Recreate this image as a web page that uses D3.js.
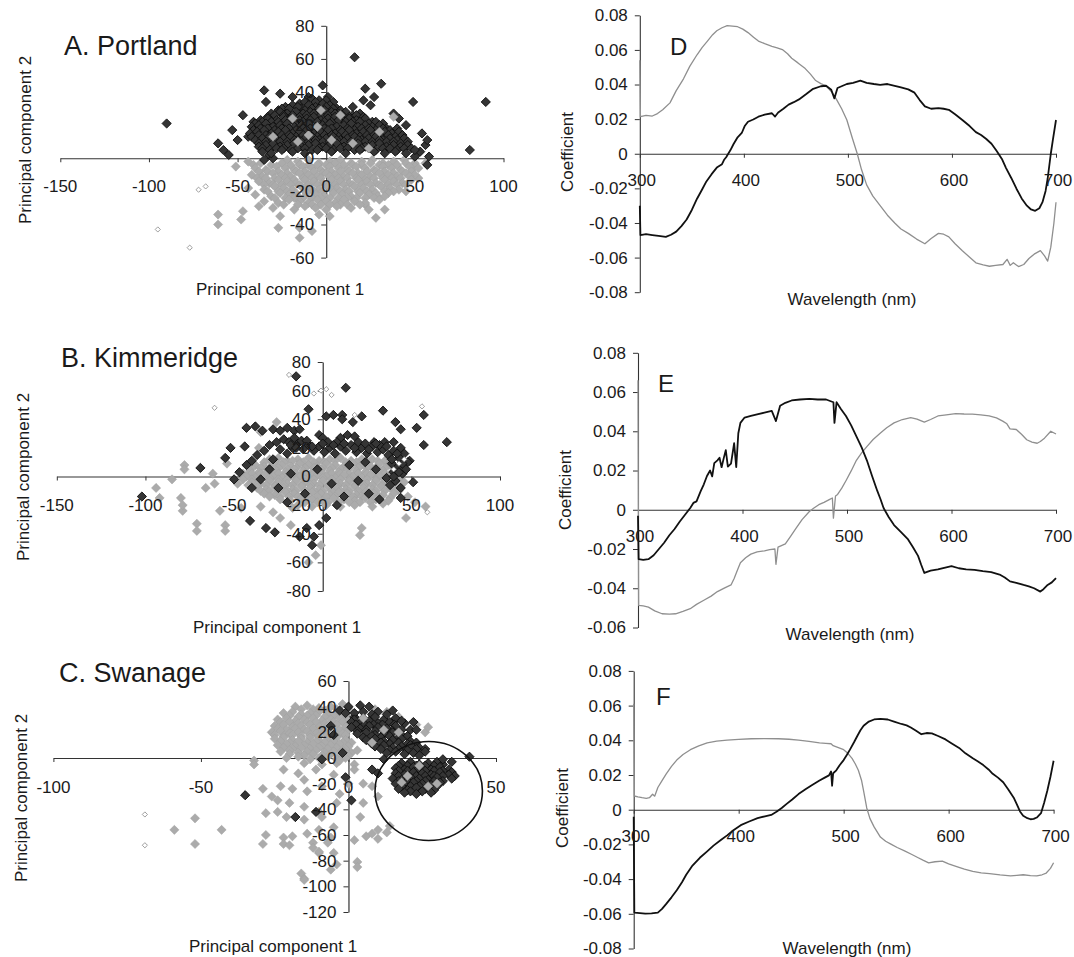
<!DOCTYPE html>
<html>
<head>
<meta charset="utf-8">
<script src="https://cdn.jsdelivr.net/npm/d3@7"></script>
<style>
  body { margin: 0; background: #fff; }
  svg text { font-family: "Liberation Sans", Arial, Helvetica, sans-serif; fill: #1a1a1a; }
</style>
</head>
<body>
<svg id="fig" width="1074" height="957"></svg>
<script>
// ---------- PCA scores, Portland ----------
const portlandDark = [
  [-90,21],[-2,44],[-35,41],[-26,39],[22,42],[31,45],[49,34],[27,37],[21,35],[15,31],[25,32],[38,27],[41,24],[54,15],[56,8],[50,1],[57,-4],
  [-47,26],[-53,17],[-50,11],[-61,9],[-58,5],[-41,22],[-34,34],[-19,37],[-10,37],[-32,2],[-30,0],[-35,-1],[16,61],[90,34],[81,5],[57,11],[53,4],[58,1],[45,20],[-44,13],[-55,2],
  [-8,36],[-4,35],[1,37],[-15,33],
  [-12,34],[-6,34],[0,35],[4,34],
  [-23,31],[-19,32],[-14,30],[-10,32],[-6,31],[-2,33],[2,32],[6,30],[-27,29],
  [-25,30],[-21,30],[-16,31],[-12,29],[-8,30],[-4,30],[0,31],[4,30],[8,29],
  [-31,27],[-26,28],[-22,27],[-17,28],[-13,27],[-9,28],[-5,27],[-1,29],[3,28],[7,27],[11,28],[15,26],[19,27],
  [-33,25],[-29,26],[-24,26],[-19,26],[-15,25],[-11,26],[-7,27],[-3,26],[1,26],[5,27],[9,26],[13,25],[17,26],[21,25],
  [-37,23],[-33,24],[-28,23],[-24,25],[-20,24],[-15,23],[-11,24],[-7,25],[-3,23],[1,24],[5,25],[9,23],[13,24],[17,23],[22,24],[26,22],
  [-40,21],[-36,22],[-31,22],[-27,22],[-23,23],[-18,22],[-13,22],[-9,23],[-5,22],[-1,22],[3,22],[7,23],[11,22],[15,22],[19,22],[24,21],[28,22],[32,21],
  [-42,19],[-38,20],[-34,21],[-30,19],[-26,20],[-22,21],[-18,19],[-14,20],[-10,21],[-6,19],[-2,20],[2,21],[6,19],[10,20],[14,21],[18,19],[22,20],[26,19],[30,20],[34,18],
  [-41,17],[-37,18],[-33,18],[-29,17],[-25,18],[-21,18],[-17,17],[-13,18],[-9,18],[-5,17],[-1,18],[3,18],[8,17],[12,18],[16,17],[20,18],[24,18],[28,17],[32,18],[36,17],[40,18],
  [-43,15],[-39,16],[-35,17],[-31,15],[-27,16],[-23,17],[-19,15],[-15,16],[-11,17],[-7,15],[-3,16],[1,17],[5,15],[9,16],[13,17],[17,15],[21,16],[25,17],[29,15],[33,16],[37,15],[41,16],
  [-42,13],[-38,14],[-34,14],[-29,13],[-25,14],[-21,14],[-17,13],[-13,14],[-9,14],[-5,13],[-1,14],[3,14],[7,13],[11,14],[15,14],[19,13],[23,14],[27,14],[31,13],[35,14],[39,13],[43,14],
  [-40,11],[-36,12],[-32,13],[-28,11],[-24,12],[-20,13],[-16,11],[-12,12],[-8,13],[-4,11],[0,12],[4,13],[8,11],[12,12],[16,13],[20,11],[24,12],[28,13],[32,11],[36,12],[40,11],[44,12],
  [-38,9],[-34,10],[-30,11],[-26,10],[-22,10],[-18,11],[-14,10],[-10,10],[-6,11],[-2,10],[2,10],[6,11],[10,10],[14,10],[18,11],[22,10],[26,10],[30,11],[34,10],[38,10],[42,9],[46,10],
  [-38,7],[-34,8],[-30,9],[-26,7],[-22,8],[-18,9],[-14,7],[-10,8],[-6,9],[-2,7],[2,8],[6,9],[10,7],[14,8],[18,9],[22,7],[26,8],[30,9],[34,7],[38,8],[42,7],[46,8],
  [-36,6],[-32,5],[-28,6],[-24,6],[-20,5],[-16,6],[-12,6],[-8,5],[-4,6],[0,6],[4,5],[8,6],[12,6],[16,5],[20,6],[24,6],[28,5],[32,6],[36,6],[40,5],[44,6],[48,6],
  [-36,4],[-31,3],[-25,5],[-19,4],[-12,3],[-5,5],[3,4],[11,3],[19,5],[27,4],[33,3],[39,4],[45,3],[50,5]
];
const portlandGrey = [
  [-61,-40],[-48,-37],[-27,-42],[-15,-48],[28,-36],[-51,-5],[-38,-29],[-61,-34],[-47,-32],[-15,-42],[-26,-35],[33,-31],[22,-28],[-8,-44],[45,-20],[52,-12],[56,-3],
  [-44,-2],[-37,-3],[-22,-1],[-16,-2],[-10,-1],[-4,-3],[2,-2],[8,-1],[14,-3],[20,-2],[26,-1],[32,-3],[38,-2],[44,-1],[50,-3],
  [-41,-4],[-31,-4],[-25,-3],[-20,-4],[-15,-4],[-10,-4],[-5,-4],[0,-4],[5,-3],[10,-4],[15,-4],[20,-4],[25,-3],[30,-4],[35,-4],[40,-4],[45,-3],[50,-5],
  [-40,-6],[-34,-7],[-28,-5],[-23,-6],[-18,-7],[-13,-5],[-8,-6],[-3,-7],[2,-5],[7,-6],[12,-7],[17,-5],[22,-6],[27,-7],[32,-5],[37,-6],[42,-7],[47,-5],[52,-6],
  [-38,-8],[-33,-8],[-27,-8],[-22,-9],[-17,-8],[-12,-8],[-7,-8],[-2,-9],[3,-8],[8,-8],[13,-8],[18,-9],[23,-8],[28,-8],[33,-8],[38,-9],[43,-8],[48,-8],
  [-42,-10],[-36,-11],[-30,-9],[-25,-10],[-20,-11],[-15,-9],[-10,-10],[-5,-11],[0,-9],[5,-10],[10,-11],[15,-9],[20,-10],[25,-11],[30,-9],[35,-10],[40,-11],[45,-9],[50,-10],
  [-39,-12],[-34,-12],[-29,-12],[-23,-12],[-18,-13],[-13,-12],[-8,-12],[-3,-12],[2,-11],[7,-12],[12,-12],[17,-12],[22,-13],[27,-12],[32,-12],[37,-12],[42,-12],[47,-11],
  [-38,-14],[-32,-15],[-27,-13],[-22,-14],[-17,-15],[-12,-13],[-7,-14],[-2,-15],[3,-13],[8,-14],[13,-15],[18,-13],[23,-14],[28,-15],[33,-13],[38,-14],[43,-15],[48,-13],
  [-35,-16],[-30,-16],[-25,-16],[-20,-16],[-15,-16],[-10,-16],[-5,-16],[0,-16],[5,-16],[10,-16],[15,-16],[20,-16],[25,-16],[30,-16],[35,-16],[40,-16],[45,-16],
  [-44,-18],[-35,-19],[-29,-17],[-24,-18],[-19,-19],[-14,-17],[-9,-18],[-4,-19],[1,-17],[6,-18],[11,-19],[16,-17],[21,-18],[26,-19],[31,-17],[36,-18],[41,-19],
  [-33,-20],[-27,-20],[-22,-20],[-17,-21],[-12,-20],[-7,-20],[-2,-20],[3,-19],[8,-20],[13,-20],[18,-20],[23,-20],[28,-21],[33,-20],[38,-20],
  [-40,-22],[-31,-23],[-26,-21],[-21,-22],[-16,-23],[-11,-21],[-6,-22],[-1,-23],[4,-21],[9,-22],[14,-23],[19,-21],[24,-22],[29,-23],[35,-21],
  [-29,-24],[-23,-24],[-18,-24],[-13,-24],[-8,-24],[-3,-24],[2,-24],[7,-24],[12,-24],[17,-24],[22,-24],[27,-24],[33,-23],
  [-35,-26],[-27,-27],[-21,-25],[-15,-26],[-10,-27],[-5,-25],[0,-26],[5,-27],[10,-25],[16,-26],[22,-27],[30,-25],
  [-24,-28],[-16,-28],[-8,-28],[-3,-28],[2,-28],[8,-28],[12,-28],[19,-28],
  [-30,-30],[-18,-31],[-12,-29],[-6,-30],[0,-31],[6,-29],[14,-30],[24,-31],
  [-4,-34],[2,-35]
];
const portlandGreyTop = [[-19,24],[-5,19],[3,11],[-16,10],[30,16],[38,25],[-10,14],[15,9],[-30,13],[24,6],[8,26],[-3,29]];
const portlandOpen = [[-95,-43],[-77,-54],[-72,-19],[-68,-17]];

// ---------- PCA scores, Kimmeridge ----------
const kimmeridgeDark = [
  [-15,70],[13,62],[-8,47],[2,42],[6,43],[11,43],[11,40],[17,38],[22,42],[34,46],[41,38],[44,33],[53,34],[57,43],[70,24],[57,22],[49,11],[40,24],[35,24],[29,24],[51,-4],[40,3],
  [-102,-14],[-69,6],[-52,20],[-55,13],[-43,34],[-38,35],[-34,32],[-44,21],[-41,-31],[-32,-36],[-27,-39],[-9,-36],[-5,-42],[-2,-34],[2,-29],[-13,-42],[-6,-48],[44,-15],
  [-28,33],[-24,32],[-20,34],[-16,32],[-13,33],[-2,29],[0,27],[10,27],[14,29],[18,28],
  [-50,-2],[-47,3],[-43,8],[-40,11],[-37,15],[-33,18],[-30,22],[-26,24],[-22,26],[-19,24],[-17,20],[-14,23],[-11,19],[-8,22],[-5,18],[-2,21],[1,17],[4,20],[7,16],[10,21],
  [13,18],[16,22],[19,17],[22,20],[25,16],[28,21],[31,17],[34,19],[37,15],[40,18],[43,13],[46,16],[48,10],[-16,27],[-12,25],[-24,19],[-20,16],[3,24],[8,24],[20,24],
  [24,23],[32,22],[44,20],[39,9],[42,6],[45,2],[41,-3],[38,-6],[44,-8],[36,-1],
  [-18,22],[-15,20],[-9,25],[-6,21],[0,23],[6,22],[12,23],[18,20],[26,19],[30,23],[36,21],[42,16],[39,12],[45,9],[47,5],[43,3],[40,0],
  [-35,-2],[-30,5],[-25,-8],[-18,2],[-10,-12],[-3,5],[5,-5],[12,-14],[20,-3],[26,-12],[30,5],[15,8],[-20,-18],[8,-20],[32,-16],[-40,-8],[-28,12],[24,10]
];
const kimmeridgeGrey = [
  [-78,8],[-66,-8],[-80,-15],[-79,-24],[-71,-33],[-94,-8],[-92,-15],[-58,-24],[-55,-34],[-61,-5],[-48,-5],[-46,-22],[-35,-21],[-28,-25],[-24,-29],[-18,-34],[-17,-22],
  [22,-36],[47,-29],[58,-21],[-26,38],[-35,31],[-36,20],[-54,9],[-78,5],[-79,-20],[-71,-38],[-55,-38],[-8,-60],[21,-41],[-1,-48],[-62,2],[-85,-2],[-4,-55],
  [-30,12],[-25,13],[-20,11],[-14,12],[-8,13],[-2,11],[4,12],[10,13],[16,11],[22,12],[28,12],
  [-33,10],[-27,10],[-22,10],[-17,11],[-11,10],[-5,10],[1,10],[7,11],[13,10],[19,10],[25,10],[31,11],[35,11],
  [-38,8],[-33,7],[-28,9],[-23,8],[-18,7],[-13,9],[-8,8],[-3,7],[2,9],[7,8],[12,7],[17,9],[22,8],[27,7],[32,9],[37,8],
  [-40,6],[-35,6],[-30,6],[-25,6],[-20,5],[-15,6],[-10,6],[-5,6],[0,6],[5,6],[10,5],[15,6],[20,6],[25,6],[30,6],[35,6],[40,6],
  [-41,4],[-36,3],[-31,5],[-26,4],[-21,3],[-16,5],[-11,4],[-6,3],[-1,5],[4,4],[9,3],[14,5],[19,4],[24,3],[29,5],[34,4],[39,3],[44,5],
  [-45,2],[-40,2],[-35,2],[-30,2],[-25,2],[-20,2],[-15,2],[-10,2],[-5,2],[0,2],[5,2],[10,2],[15,2],[20,2],[25,2],[30,2],[35,2],[40,2],[45,2],
  [-43,0],[-38,-1],[-33,1],[-28,0],[-23,-1],[-18,1],[-13,0],[-8,-1],[-3,1],[2,0],[7,-1],[12,1],[17,0],[22,-1],[27,1],[32,0],[37,-1],[42,1],
  [-45,-2],[-40,-2],[-35,-2],[-30,-1],[-25,-2],[-20,-2],[-15,-2],[-10,-2],[-5,-2],[0,-1],[5,-2],[10,-2],[15,-2],[20,-2],[25,-2],[30,-2],[35,-2],[40,-2],[44,-2],
  [-40,-4],[-35,-5],[-30,-3],[-25,-4],[-20,-5],[-15,-3],[-10,-4],[-5,-5],[0,-3],[5,-4],[10,-5],[15,-3],[20,-4],[25,-5],[30,-3],[35,-4],[40,-5],[46,-4],
  [-42,-6],[-37,-6],[-32,-6],[-27,-6],[-22,-6],[-17,-6],[-12,-6],[-7,-6],[-2,-6],[3,-6],[8,-6],[13,-6],[18,-6],[23,-6],[28,-6],[33,-6],[38,-6],[43,-6],
  [-37,-8],[-32,-9],[-27,-7],[-22,-8],[-17,-9],[-12,-7],[-7,-8],[-2,-9],[3,-7],[8,-8],[13,-9],[18,-7],[23,-8],[28,-9],[33,-7],[38,-8],[43,-10],
  [-35,-10],[-30,-10],[-25,-10],[-20,-10],[-15,-10],[-10,-10],[-5,-10],[0,-10],[5,-10],[10,-10],[15,-10],[20,-10],[25,-10],[30,-10],[35,-10],[41,-10],
  [-33,-12],[-27,-13],[-21,-11],[-16,-12],[-11,-13],[-6,-11],[-1,-12],[4,-13],[9,-11],[14,-12],[19,-13],[24,-11],[29,-12],[34,-13],[40,-12],[48,-14],
  [-30,-14],[-24,-14],[-19,-14],[-14,-14],[-9,-14],[-3,-14],[2,-14],[7,-14],[12,-14],[17,-14],[22,-14],[27,-14],[32,-14],[38,-15],
  [-24,-16],[-18,-17],[-12,-15],[-6,-16],[0,-17],[6,-15],[12,-16],[18,-17],[24,-15],[30,-16],[37,-17],[52,-18],
  [-20,-18],[-10,-18],[-3,-18],[3,-18],[9,-18],[15,-18],[21,-18],[27,-18],[34,-19],
  [-14,-20],[-6,-21],[2,-20],[10,-21],[18,-20],[28,-21]
];
const kimmeridgeOpen = [[-61,48],[-19,71],[-5,58],[-1,60],[2,61],[5,57],[56,49],[18,43],[40,5],[43,9],[46,12],[59,-25]];

// ---------- PCA scores, Swanage ----------
const swanageDark = [
  [0,40],[4,41],[7,40],[12,30],[13,34],[16,30],[19,27],[21,22],[23,22],[22,28],[2,32],[-3,37],[-1,35],[10,36],[15,37],
  [2,35],[5,36],[8,34],[2,30],[5,31],[9,32],[16,31],
  [1,28],[4,27],[7,29],[10,27],[14,28],[18,29],
  [2.5,26],[5.5,26],[8.5,26],[11.5,26],[15.5,26],
  [1,24],[4,23],[7,25],[10,24],[13,23],[16,25],
  [3,21],[6,22],[9,21],[12,22],[15,21],[18,22],
  [3,19],[6,20],[9,18],[12,19],[15,20],[18,18],
  [5,16],[8,17],[11,16],[14,17],[17,16],[20,17],
  [6,14],[9,15],[12,13],[15,14],[18,15],[21,13],
  [8,11],[11,12],[14,11],[17,12],[20,11],[23,12],
  [9,9],[12,10],[15,8],[18,9],[21,10],[24,8],
  [11,7],[14,6],[17,7],[20,6],[23,7],[26,7],
  [13,4],[16,5],[19,3],[22,4],[26,5],[12,-1],
  [18,-4],[21,-3],[24,-5],[27,-4],[30,-3],
  [17,-6],[20,-6],[23,-6],[26,-6],[29,-6],[32,-5],
  [16,-8],[19,-9],[22,-7],[25,-8],[28,-9],[31,-7],[34,-9],
  [17,-10],[20,-10],[23,-10],[26,-10],[29,-10],[32,-10],[35,-11],
  [16,-12],[19,-13],[22,-11],[25,-12],[28,-13],[31,-11],[34,-13],
  [17,-14],[20,-14],[23,-14],[26,-14],[29,-14],[32,-14],[36,-14],
  [15,-16],[18,-17],[21,-15],[24,-16],[27,-17],[30,-15],[35,-16],
  [17,-18],[20,-18],[23,-18],[26,-18],[29,-18],[32,-18],
  [16,-20],[19,-21],[22,-19],[25,-20],[28,-21],[31,-19],
  [18,-22],[21,-22],[24,-22],[27,-22],[30,-22],
  [17,-24],[20,-25],[23,-23],[26,-24],[29,-25],
  [21,-26],[25,-26],[28,-27],[19,-27],[23,-28],
  [24,2],[32,-1],[35,-3],[41,1],[-35,-29],[-18,-46],[-11,-42],[8,-9],[10,-12],[1,-33],[-1,-15],[-9,-1],[-5,18],[-2,4],[-6,25]
];
const swanageGrey = [
  [-18,40],[-14,41],[-10,39],[-6,40],[-2,42],
  [-16,38],[-12,38],[-8,37],[-4,38],[0,38],
  [-22,35],[-19,36],[-16,34],[-13,35],[-10,36],[-7,34],[-4,35],[-1,33],
  [-20,33],[-17,32],[-14,33],[-11,33],[-8,32],[-5,33],[-2,32],
  [-24,30],[-21,31],[-18,29],[-15,30],[-12,31],[-9,29],[-6,30],[-3,31],[0,29],
  [-23,28],[-20,28],[-17,27],[-14,28],[-11,28],[-8,27],[-5,28],[-2,28],[1,27],
  [-25,25],[-22,26],[-19,24],[-16,25],[-13,26],[-10,24],[-7,25],[-4,26],[-1,24],
  [-24,23],[-21,22],[-18,23],[-15,22],[-12,23],[-9,22],[-6,23],[-3,22],[0,22],
  [-26,20],[-23,21],[-20,19],[-17,20],[-14,21],[-11,19],[-8,20],[-5,21],[-2,19],
  [-25,18],[-22,17],[-19,18],[-16,17],[-13,18],[-10,17],[-7,18],[-4,17],[-1,18],
  [-25,15],[-22,16],[-19,14],[-16,15],[-13,16],[-10,14],[-7,15],[-4,16],[-1,14],
  [-23,13],[-20,12],[-17,13],[-14,12],[-11,13],[-8,12],[-5,13],[-2,12],[1,12],
  [-24,10],[-21,11],[-18,9],[-15,10],[-12,11],[-9,9],[-6,10],[-3,11],[0,9],
  [-22,8],[-19,7],[-16,8],[-13,7],[-10,8],[-7,7],[-4,8],[-1,7],
  [-23,5],[-20,6],[-17,4],[-14,5],[-11,6],[-8,4],[-5,5],[-2,6],[1,4],
  [-20,3],[-15,2],[-12,3],[-9,2],[-6,3],[-3,2],[0,2],
  [-21,0],[-17,1],[-13,-1],[-10,0],[-7,1],[-4,-1],[-1,0],
  [-15,-4],[-9,-5],[-4,-4],[2,-5],
  [-22,-9],[-17,-12],[-11,-9],[-5,-13],[2,-9],[-23,-22],[-19,-24],[-14,-26],[-9,-22],[-3,-28],[-24,-33],[-20,-35],[-15,-38],[-10,-42],
  [-21,-46],[-15,-48],[-9,-46],[-5,-54],[-28,-60],[-22,-62],[-19,-61],[-14,-59],[-10,-56],[-12,-66],[-7,-66],[-10,-74],[-5,-74],[-16,-90],[-15,-94],
  [3,-81],[2,-64],[6,-61],[10,-56],[14,-53],[5,-35],[4,-46],[10,-30],[8,-22],[5,-20],[-32,-2],[-3,-2],[0,-20],[-4,-35],[-24,-42],[-28,-43],[-15,-17],
  [-32,-5],[-29,-24],[-26,-30],[-59,-56],[-52,-47],[-52,-67],[-43,-56],[3,-85],[-15,-95],[8,-59],[13,-58],[10,-63],[-22,-67],[-20,-68],[-29,-67],[-12,-70],[-10,-73],[-6,-62],[-4,-83],[-6,-87],
  [9,38],[13,36],[17,32],[23,26],[26,20],[27,24]
];
const swanageGreyTop = [[20,-14],[27,-22],[24,-6],[30,-20],[18,-19],[5,31],[12,22],[17,20],[8,12],[3,6]];
const swanageOpen = [[-69,-44],[-69,-68]];
// ring drawn round the second group: centre x, centre y, radius along x, radius along y
const swanageRing = [27.2, -25.7, 18.2, 38.6];

// ---------- Loading coefficients by wavelength (nm, coefficient) ----------
const coefPortlandBlack = [
  [300,-0.030],[300.6,-0.047],[306,-0.0465],[312,-0.047],[318,-0.0475],[325,-0.048],[330,-0.0468],[335,-0.045],[340,-0.0418],[345,-0.038],[350,-0.0325],[355,-0.026],
  [360,-0.0205],[364,-0.016],[369,-0.0118],[374,-0.008],[379,-0.006],[381,-0.0035],[383,-0.002],[387,0.002],[390,0.0055],[394,0.0095],[398,0.012],
  [401,0.0162],[404,0.0185],[409,0.0198],[414,0.0214],[420,0.0226],[427,0.0234],[430,0.0215],[433,0.0238],[438,0.026],[443,0.0284],[448,0.0298],[453,0.0314],
  [460,0.0345],[466,0.0373],[474,0.039],[479,0.0393],[484,0.037],[487,0.032],[490,0.038],
  [499,0.0403],[505,0.041],[512,0.0423],[518,0.041],[525,0.0403],[531,0.0398],[538,0.0403],[545,0.0392],[551,0.0383],[558,0.0372],[564,0.0353],[569,0.031],[574,0.0274],
  [580,0.026],[587,0.0264],[592,0.026],[597,0.0254],[603,0.0228],[610,0.0195],[617,0.016],[623,0.0125],[628,0.0108],[633,0.0085],
  [638,0.0058],[643,0.0016],[648,-0.003],[652,-0.0083],[657,-0.014],[662,-0.0202],[667,-0.0258],[672,-0.030],[676,-0.0322],[680,-0.033],[684,-0.0315],
  [687,-0.028],[690,-0.0215],[692,-0.0143],[695,0],[697,0.008],[700,0.0195]
];
const coefPortlandGrey = [
  [300,0.054],[300.6,0.0214],[306,0.0222],[312,0.0218],[317,0.0232],[322,0.0254],[329,0.0294],[335,0.0365],[342,0.0433],[348,0.0505],[355,0.0572],[360,0.0615],
  [365,0.0651],[370,0.0688],[374,0.0711],[379,0.0728],[384,0.074],[389,0.0737],[394,0.0734],[399,0.072],[404,0.070],[409,0.0675],[414,0.0651],[420,0.0636],
  [427,0.0621],[432,0.0612],[437,0.0602],[442,0.0578],[446,0.0552],[452,0.0525],[459,0.0492],[464,0.046],[469,0.0423],[474,0.0405],[479,0.0393],[484,0.036],
  [489,0.0314],[494,0.026],[499,0.0195],[504,0.0095],[509,0.0],[513,-0.009],[518,-0.018],[524,-0.0245],[531,-0.030],[538,-0.0355],[545,-0.040],[551,-0.0435],
  [558,-0.046],[566,-0.0493],[574,-0.052],[580,-0.049],[587,-0.046],[592,-0.0465],[597,-0.048],[603,-0.052],[610,-0.056],[617,-0.0598],[623,-0.063],[630,-0.0642],
  [636,-0.065],[642,-0.0645],[649,-0.064],[653,-0.061],[656,-0.0645],[659,-0.063],[664,-0.0652],[669,-0.064],[674,-0.0605],[679,-0.058],
  [685,-0.056],[689,-0.059],[692,-0.062],[695,-0.054],[698,-0.040],[700,-0.028]
];
const coefKimmeridgeBlack = [
  [300,-0.003],[300.6,-0.0252],[305,-0.0255],[310,-0.0252],[315,-0.0232],[320,-0.020],[325,-0.0168],[330,-0.013],[335,-0.0098],[340,-0.006],[345,-0.0025],[350,0.0009],
  [353,0.0035],[356,0.0043],[360,0.0095],[363,0.013],[366,0.0172],[369,0.020],[371,0.017],[373,0.0238],[376,0.0252],[378,0.0265],[380,0.0217],
  [382,0.0262],[384,0.0304],[386,0.022],[389,0.0235],[392,0.0339],[394,0.0217],[396,0.039],[398,0.0443],[402,0.047],[408,0.0478],[415,0.0487],[421,0.0495],[428,0.0504],
  [432,0.0452],[436,0.053],[441,0.0545],[447,0.0557],[455,0.0562],
  [464,0.0565],[472,0.0562],[480,0.0562],[487,0.0548],[488,0.0443],[490,0.0548],[494,0.0515],[499,0.0478],[504,0.043],[509,0.0374],[514,0.0318],[519,0.0252],
  [524,0.0172],[529,0.0096],[532,0.0055],[535,0.0009],[540,-0.0038],[545,-0.0078],[551,-0.011],[558,-0.0148],
  [563,-0.019],[568,-0.0235],[571,-0.028],[574,-0.0322],[580,-0.031],[587,-0.0304],[593,-0.0296],[600,-0.0287],[607,-0.0298],[614,-0.0304],[622,-0.0306],
  [630,-0.0313],[638,-0.0318],[646,-0.033],[651,-0.0345],[656,-0.0365],[662,-0.0372],[669,-0.0383],[674,-0.039],[679,-0.040],[685,-0.0417],
  [688,-0.0405],[692,-0.0383],[696,-0.037],[700,-0.0348]
];
const coefKimmeridgeGrey = [
  [300,0.066],[300.6,-0.0487],[305,-0.049],[310,-0.0496],[316,-0.0515],[323,-0.053],[330,-0.0532],[336,-0.053],[343,-0.0518],[350,-0.0504],[356,-0.0482],
  [363,-0.0461],[370,-0.044],[376,-0.0417],[383,-0.0398],[389,-0.0383],[392,-0.035],[395,-0.031],[398,-0.027],[403,-0.0245],[408,-0.0226],
  [414,-0.0215],[421,-0.0209],[426,-0.0203],[431,-0.020],[432,-0.0278],[434,-0.019],[441,-0.0174],[446,-0.0135],[451,-0.0096],[457,-0.005],[464,-0.0009],
  [468,0.0008],[473,0.0026],[478,0.0038],[483,0.0052],[486,0.006],[487,-0.0043],[489,0.007],
  [491,0.0078],[495,0.011],[499,0.0148],[504,0.0198],[509,0.0252],[514,0.029],[519,0.0322],[525,0.0358],[532,0.0391],[538,0.0418],[545,0.0443],[553,0.046],
  [561,0.047],[567,0.0462],[574,0.0447],[580,0.046],[587,0.0478],[595,0.0484],[604,0.049],[612,0.0488],[620,0.0487],[628,0.0484],[636,0.0478],[643,0.0468],
  [649,0.0452],[653,0.0438],[656,0.0412],[662,0.0409],[667,0.0385],[672,0.0357],[677,0.0345],[682,0.0339],[685,0.0348],[689,0.0365],[695,0.040],[700,0.0386]
];
const coefSwanageBlack = [
  [300,-0.004],[300.6,-0.0593],[306,-0.0596],[311,-0.0599],[317,-0.0597],[323,-0.0593],[327,-0.0572],[331,-0.0543],[336,-0.0505],[341,-0.0464],[346,-0.0418],
  [350,-0.0375],[356,-0.0322],[363,-0.0277],[370,-0.024],[376,-0.0207],[383,-0.0175],[389,-0.0148],[395,-0.0118],[402,-0.0089],[410,-0.0068],[418,-0.0049],
  [425,-0.0038],[431,-0.003],[436,-0.0012],[441,0.001],[446,0.0035],[451,0.0059],[457,0.009],[464,0.0119],[470,0.0142],[477,0.0168],[482,0.0185],
  [486,0.0198],[488,0.022],[489,0.0138],[490,0.021],[493,0.0227],[496,0.0255],[500,0.0286],[503,0.0315],[506,0.0346],
  [510,0.039],[513,0.0425],[516,0.0458],[519,0.0484],[524,0.0508],[529,0.052],[535,0.0524],[542,0.052],[548,0.0508],[555,0.0494],[560,0.0486],[564,0.0474],
  [569,0.0455],[574,0.0435],[579,0.0442],[584,0.044],[590,0.0425],[597,0.0405],[603,0.0382],[610,0.0356],[616,0.0325],[623,0.0296],[628,0.0278],[633,0.0257],
  [638,0.0232],[642,0.0207],[647,0.0185],[652,0.0158],[657,0.0115],[662,0.0069],[665,0.003],[668,-0.001],[671,-0.0035],[675,-0.0049],[678,-0.0055],[681,-0.0053],
  [684,-0.0045],[688,-0.002],[691,0.004],[694,0.0109],[697,0.019],[700,0.0282]
];
const coefSwanageGrey = [
  [300,0.061],[300.6,0.0079],[304,0.0074],[308,0.0069],[312,0.0065],[315,0.0069],[318,0.0089],[320,0.0078],[323,0.0128],[327,0.0168],[331,0.0207],[336,0.025],
  [341,0.0286],[347,0.0318],[354,0.0346],[362,0.0368],[370,0.0385],[379,0.0395],[389,0.0401],[400,0.0405],[412,0.0409],[425,0.041],[438,0.0409],[448,0.0406],
  [457,0.0401],[467,0.0394],[477,0.0385],[483,0.0382],[488,0.038],[490,0.0369],[495,0.0358],[500,0.0346],[504,0.0325],[508,0.0296],[511,0.0265],[514,0.0227],
  [517,0.017],[519,0.0109],[522,0.001],[525,-0.005],[529,-0.0099],[535,-0.0158],[540,-0.0182],[545,-0.0198],
  [551,-0.0218],[558,-0.0237],[565,-0.0258],[571,-0.0277],[576,-0.0292],[581,-0.0306],[587,-0.03],[594,-0.0296],[600,-0.0312],[607,-0.0326],[615,-0.0342],
  [623,-0.0356],[631,-0.0364],[639,-0.0369],[649,-0.0376],[659,-0.0381],[665,-0.0378],[671,-0.0375],[678,-0.038],[684,-0.0381],[689,-0.0375],[693,-0.0365],
  [697,-0.0338],[700,-0.0306]
];

const scatterTicksAB = [-150,-100,-50,0,50,100];
const scatterTicksC = [-100,-50,0,50];
const pc2TicksA = [-60,-40,-20,0,20,40,60,80];
const pc2TicksB = [-80,-60,-40,-20,0,20,40,60,80];
const pc2TicksC = [-120,-100,-80,-60,-40,-20,0,20,40,60];
const wavelengthTicks = [300,400,500,600,700];
const coefTicks = [-0.08,-0.06,-0.04,-0.02,0,0.02,0.04,0.06,0.08];
const coefTicksE = [-0.06,-0.04,-0.02,0,0.02,0.04,0.06,0.08];

const svg = d3.select("#fig");
const DARK = "#353535", DARK_EDGE = "#0d0d0d", GREY = "#ababab", GREY_EDGE = "#a0a0a0";
const diamond = "M0,-4.6L4.6,0L0,4.6L-4.6,0Z";
const smallDiamond = "M0,-2.6L2.6,0L0,2.6L-2.6,0Z";

function scatterPanel(o) {
  const x = d3.scaleLinear().domain(o.xDomain).range(o.xRange);
  const y = d3.scaleLinear().domain(o.yDomain).range(o.yRange);
  const g = svg.append("g");
  const axisStyle = sel => { sel.select(".domain").attr("stroke", "#333").attr("stroke-width", 1.2); sel.selectAll(".tick line").attr("stroke", "#333"); };

  g.append("g").attr("transform", `translate(0,${y(0)})`)
    .call(d3.axisBottom(x).tickValues(o.xTicks).tickSize(4).tickSizeOuter(0).tickFormat(""))
    .call(axisStyle);
  g.append("g").attr("transform", `translate(${x(0)},0)`)
    .call(d3.axisLeft(y).tickValues(o.yTicks).tickSize(5).tickSizeOuter(0).tickFormat(""))
    .call(axisStyle);

  const pts = (data, path, fill, stroke, sw) => g.append("g").selectAll("path").data(data).join("path")
    .attr("d", path).attr("transform", d => `translate(${x(d[0])},${y(d[1])})`)
    .attr("fill", fill).attr("stroke", stroke).attr("stroke-width", sw);

  pts(o.grey, diamond, GREY, GREY_EDGE, 0.5);
  pts(o.dark, diamond, DARK, DARK_EDGE, 0.9);
  pts(o.greyTop, diamond, GREY, GREY_EDGE, 0.5);
  pts(o.open, smallDiamond, "#fff", "#888", 0.8);

  if (o.ring) {
    const [cx, cy, rx, ry] = o.ring;
    g.append("ellipse").attr("cx", x(cx)).attr("cy", y(cy))
      .attr("rx", x(cx + rx) - x(cx)).attr("ry", y(cy - ry) - y(cy))
      .attr("fill", "none").attr("stroke", "#111").attr("stroke-width", 1.6);
  }

  g.append("g").selectAll("text").data(o.xTicks).join("text")
    .attr("x", d => x(d)).attr("y", y(0) + o.xLabelGap).attr("dy", "0.35em")
    .attr("text-anchor", "middle").attr("font-size", 17).text(d => String(d));
  g.append("g").selectAll("text").data(o.yTicks).join("text")
    .attr("x", x(0) - 12).attr("y", d => y(d)).attr("dy", "0.35em")
    .attr("text-anchor", "end").attr("font-size", 17).text(d => String(d));

  g.append("text").attr("x", o.title[1]).attr("y", o.title[2]).attr("font-size", 27).text(o.title[0]);
  g.append("text").attr("x", o.xTitle[0]).attr("y", o.xTitle[1]).attr("text-anchor", "middle")
    .attr("font-size", 17).text("Principal component 1");
  g.append("text").attr("transform", `translate(${o.yTitle[0]},${o.yTitle[1]}) rotate(-90)`)
    .attr("text-anchor", "middle").attr("dy", "0.35em").attr("font-size", 17).text("Principal component 2");
}

function spectrumPanel(o) {
  const x = d3.scaleLinear().domain([300, 700]).range(o.xRange);
  const y = d3.scaleLinear().domain(o.yDomain).range(o.yRange);
  const g = svg.append("g");
  const axisStyle = sel => { sel.select(".domain").attr("stroke", "#333").attr("stroke-width", 1.1); sel.selectAll(".tick line").attr("stroke", "#333"); };

  g.append("g").attr("transform", `translate(${x(300)},0)`)
    .call(d3.axisLeft(y).tickValues(o.yTicks).tickSize(5).tickSizeOuter(0).tickFormat(""))
    .call(axisStyle);
  g.append("g").attr("transform", `translate(0,${y(0)})`)
    .call(d3.axisBottom(x).tickValues(wavelengthTicks).tickSize(4).tickSizeOuter(0).tickFormat(""))
    .call(axisStyle);

  const line = d3.line().x(d => x(d[0])).y(d => y(d[1]));
  g.append("path").datum(o.grey).attr("d", line).attr("fill", "none")
    .attr("stroke", "#8f8f8f").attr("stroke-width", 1.3).attr("stroke-linejoin", "round");
  g.append("path").datum(o.black).attr("d", line).attr("fill", "none")
    .attr("stroke", "#111").attr("stroke-width", 1.8).attr("stroke-linejoin", "round");

  g.append("g").selectAll("text").data(wavelengthTicks).join("text")
    .attr("x", d => x(d) + 2).attr("y", y(0) + 26).attr("dy", "0.35em")
    .attr("text-anchor", "middle").attr("font-size", 17).text(d => String(d));
  g.append("g").selectAll("text").data(o.yTicks).join("text")
    .attr("x", x(300) - 12).attr("y", d => y(d)).attr("dy", "0.35em")
    .attr("text-anchor", "end").attr("font-size", 17).text(d => d === 0 ? "0" : d.toFixed(2));

  g.append("text").attr("x", o.letter[1]).attr("y", o.letter[2]).attr("font-size", 24).text(o.letter[0]);
  g.append("text").attr("x", o.xTitle[0]).attr("y", o.xTitle[1]).attr("text-anchor", "middle")
    .attr("font-size", 17).text("Wavelength (nm)");
  g.append("text").attr("transform", `translate(${o.yTitle[0]},${o.yTitle[1]}) rotate(-90)`)
    .attr("text-anchor", "middle").attr("dy", "0.35em").attr("font-size", 17).text("Coefficient");
}

scatterPanel({
  xDomain: [-150, 100], xRange: [60.3, 503.5], yDomain: [-60, 80], yRange: [257.6, 25.8],
  xTicks: scatterTicksAB, yTicks: pc2TicksA, xLabelGap: 28,
  dark: portlandDark, grey: portlandGrey, greyTop: portlandGreyTop, open: portlandOpen,
  title: ["A. Portland", 64, 55], xTitle: [280, 295], yTitle: [25, 140]
});
scatterPanel({
  xDomain: [-150, 100], xRange: [56.8, 500], yDomain: [-80, 80], yRange: [591, 362],
  xTicks: scatterTicksAB, yTicks: pc2TicksB, xLabelGap: 29,
  dark: kimmeridgeDark, grey: kimmeridgeGrey, greyTop: [], open: kimmeridgeOpen,
  title: ["B. Kimmeridge", 61, 367], xTitle: [277, 633], yTitle: [23, 477]
});
scatterPanel({
  xDomain: [-100, 50], xRange: [53.4, 496], yDomain: [-120, 60], yRange: [912, 681],
  xTicks: scatterTicksC, yTicks: pc2TicksC, xLabelGap: 29,
  dark: swanageDark, grey: swanageGrey, greyTop: swanageGreyTop, open: swanageOpen, ring: swanageRing,
  title: ["C. Swanage", 59, 682], xTitle: [273, 952], yTitle: [21, 798]
});

spectrumPanel({
  xRange: [639.8, 1056], yDomain: [-0.08, 0.08], yRange: [292.2, 15.3], yTicks: coefTicks,
  black: coefPortlandBlack, grey: coefPortlandGrey,
  letter: ["D", 670, 55], xTitle: [852, 305], yTitle: [567, 152]
});
spectrumPanel({
  xRange: [638, 1056], yDomain: [-0.06, 0.08], yRange: [627.5, 352.8], yTicks: coefTicksE,
  black: coefKimmeridgeBlack, grey: coefKimmeridgeGrey,
  letter: ["E", 658, 392], xTitle: [850, 640], yTitle: [565, 490]
});
spectrumPanel({
  xRange: [633.7, 1053.6], yDomain: [-0.08, 0.08], yRange: [948.5, 670.9], yTicks: coefTicks,
  black: coefSwanageBlack, grey: coefSwanageGrey,
  letter: ["F", 656, 705], xTitle: [847, 954], yTitle: [562, 808]
});
</script>
</body>
</html>
